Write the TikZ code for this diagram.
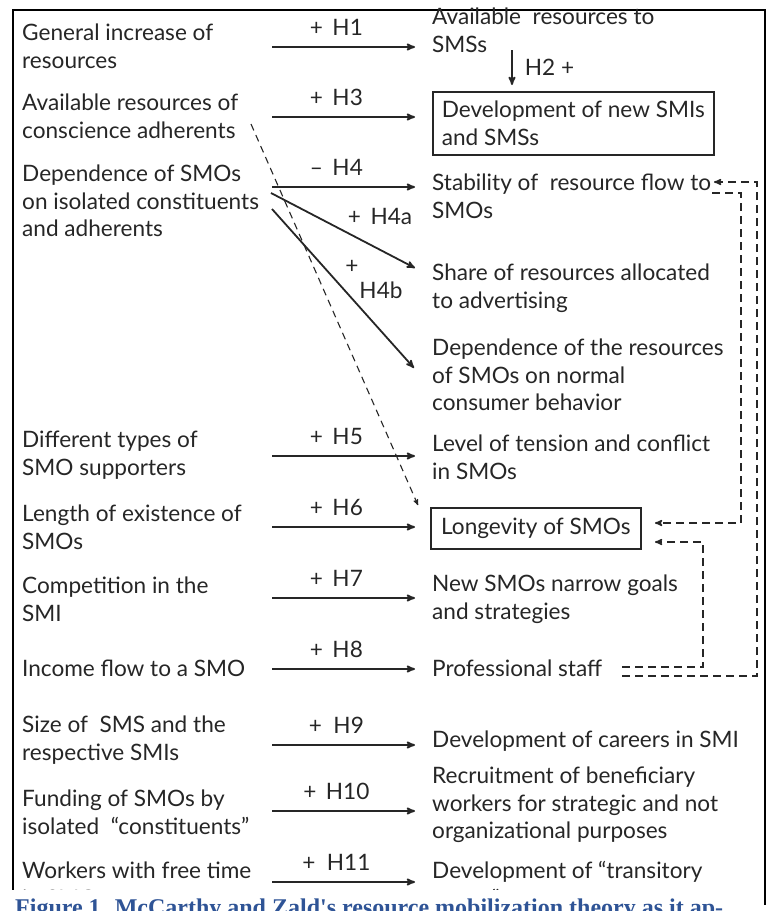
\documentclass[tikz,border=0pt]{standalone}
\usepackage{fontspec}
\setmainfont{Lato}
\newfontfamily\capfont{Liberation Serif}
\usetikzlibrary{arrows}
\definecolor{inkgray}{HTML}{262626}
\definecolor{capblue}{HTML}{2F5496}

\begin{document}
\begin{tikzpicture}[x=1pt, y=-1pt, > = stealth', inner sep=0pt,
       font=\fontsize{22.6}{27.6}\selectfont]

\tikzstyle{cause}  = [anchor=west, align=left, text=inkgray]
\tikzstyle{effect} = [anchor=west, align=left, text=inkgray]
\tikzstyle{boxed}  = [draw=inkgray, line width=1.6pt]
\tikzstyle{arr}    = [->, draw=inkgray, line width=1.8pt]
\tikzstyle{fb}     = [->, draw=inkgray, line width=1.5pt, dash pattern=on 8pt off 5pt]
\tikzstyle{hyp}    = [text=inkgray]

\useasboundingbox (0,0) rectangle (767,911);

% outer frame
\draw[line width=1.5pt] (13,905) -- (13,10) -- (765,10) -- (765,905);

    % causes (left column)
    \foreach \n / \y / \t in {1/46.5/{General increase of\\resources},
                              3/116.5/{Available resources of\\conscience adherents},
                              4/201/{Dependence of SMOs\\on isolated constituents\\and adherents},
                              5/455/{Different types of\\SMO supporters},
                              6/527/{Length of existence of\\SMOs},
                              7/599/{Competition in the\\SMI},
                              8/668/{Income flow to a SMO},
                              9/740/{Size of \ SMS and the\\respective SMIs},
                              10/812/{Funding of SMOs by\\isolated \ ``constituents''},
                              11/884/{Workers with free time\\in SMO}}
        \node[cause] (C-\n) at (22,\y) {\t};

    % effects (right column)
    \foreach \n / \y / \t in {1/30/{Available \ resources to\\SMSs},
                              4/196/{Stability of \ resource flow to\\SMOs},
                              4a/288/{Share of resources allocated\\to advertising},
                              4b/375/{Dependence of the resources\\of SMOs on normal\\consumer behavior},
                              5/457/{Level of tension and conflict\\in SMOs},
                              7/599/{New SMOs narrow goals\\and strategies},
                              8/668/{Professional staff},
                              9/741/{Development of careers in SMI},
                              10/805/{Recruitment of beneficiary\\workers for strategic and not\\organizational purposes},
                              11/884/{Development of ``transitory\\teams''}}
        \node[effect] (E-\n) at (432,\y) {\t};

    % boxed effects
    \node[effect, boxed, minimum width=281pt, minimum height=63pt, inner xsep=5pt] (E-3) at (432,123.5)
          {Development of new SMIs\\and SMSs};
    \node[boxed, minimum width=210pt, minimum height=41pt, text=inkgray, anchor=west] (E-6) at (430,528.5)
          {Longevity of SMOs};

    % horizontal hypotheses
    \foreach \n / \y / \l in {1/47/{+ \,H1}, 3/117/{+ \,H3}, 4/187/{-- \,H4},
                              5/456/{+ \,H5}, 6/527/{+ \,H6}, 7/598/{+ \,H7},
                              8/669/{+ \,H8}, 9/745/{+ \ H9}, 10/811/{+ \,H10},
                              11/882/{+ \ H11}}
    {
        \coordinate (S-\n) at (272,\y);
        \coordinate (T-\n) at (415,\y);
        \draw[arr] (S-\n) -- node[hyp, pos=0.45, yshift=20pt] {\l} (T-\n);
    }

    % H2 (vertical)
    \coordinate (S-2) at (512,50);
    \coordinate (T-2) at (512,85);
    \draw[arr] (S-2) -- node[hyp, right=12pt] {H2 +} (T-2);

    % H4a and H4b (slanted)
    \coordinate (S-4a) at (271,193);
    \coordinate (T-4a) at (415,268);
    \coordinate (S-4b) at (272,209);
    \coordinate (T-4b) at (414,368);
    \draw[arr] (S-4a) -- (T-4a);
    \draw[arr] (S-4b) -- (T-4b);
    \node[hyp] (L-4a) at (380,216) {+ \,H4a};
    \node[hyp] (L-4b1) at (352,267) {+};
    \node[hyp] (L-4b2) at (381,290) {H4b};

    % conscience adherents -> longevity (dashed)
    \coordinate (D-s) at (251,124);
    \draw[->, draw=inkgray, line width=1.1pt, dash pattern=on 7pt off 5pt]
          (D-s) -- ([shift={(-12,-2)}]E-6.north west);

    % feedback loops (dashed)
    \coordinate (F-1) at (622,676);
    \coordinate (F-2) at (622,667);
    \coordinate (F-3) at (712,193);
    \draw[fb] (F-1) -- (757,676) -- (757,182) -- (714,182);
    \draw[fb] (F-2) -- (703,667) -- (703,542) -- (655,542);
    \draw[fb] (F-3) -- (741,193) -- (741,523) -- (655,523);

% caption strip, cut by the page edge
\fill[white] (0,890) rectangle (763,911);
\node[anchor=base west, text=capblue, font=\capfont\bfseries\fontsize{24}{26}\selectfont] (cap)
      at (15,915) {Figure 1. McCarthy and Zald's resource mobilization theory as it ap-};

\end{tikzpicture}
\end{document}
